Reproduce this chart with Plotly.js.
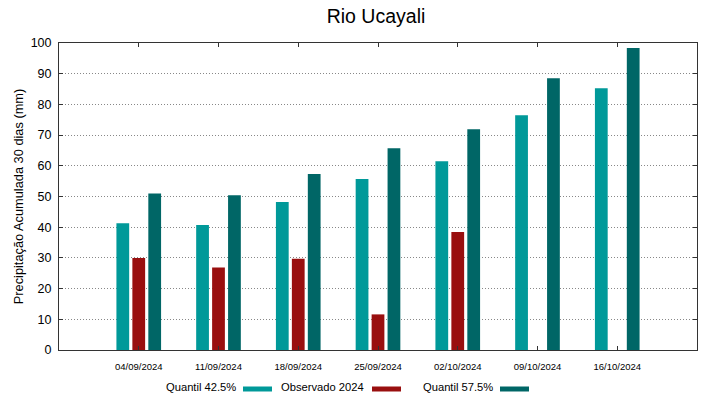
<!DOCTYPE html>
<html><head><meta charset="utf-8">
<script src="https://cdn.plot.ly/plotly-3.0.1.min.js"></script>
<style>body{margin:0;padding:0;background:#fff}#chart{width:719px;height:399px}</style>
</head><body><div id="chart"></div>
<script>
const categories = ["04/09/2024","11/09/2024","18/09/2024","25/09/2024","02/10/2024","09/10/2024","16/10/2024"];
const quantil425 = [41.3, 40.7, 48.2, 55.7, 61.5, 76.5, 85.3];
const observado2024 = [30.0, 26.9, 29.7, 11.6, 38.4, null, null];
const quantil575 = [51.0, 50.4, 57.3, 65.7, 71.9, 88.5, 98.4];
const seriesNames = ["Quantil 42.5%", "Observado 2024", "Quantil 57.5%"];
const colors = ["#009999", "#990f0f", "#006666"];

const font = "Liberation Sans, Arial, sans-serif";
const seriesVals = [quantil425, observado2024, quantil575];
const traces = seriesVals.map((v, i) => ({
  type: "bar", x: categories, y: v, name: seriesNames[i],
  marker: {color: colors[i], line: {width: 0}}, showlegend: false
}));

// custom legend: text then swatch
const legendText = [{x0: 238, s0: 243}, {x0: 366, s0: 372}, {x0: 495, s0: 500}];
const annotations = [], shapes = [];
legendText.forEach((p, i) => {
  annotations.push({xref: "paper", yref: "paper", x: (p.x0 - 59) / 638, y: -(387 - 350) / 307,
    xanchor: "right", yanchor: "middle", text: seriesNames[i], showarrow: false,
    font: {family: font, size: 11.2, color: "#000"}});
  shapes.push({type: "rect", xref: "paper", yref: "paper",
    x0: (p.s0 - 59) / 638, x1: (p.s0 + 29 - 59) / 638,
    y0: -(391.5 - 350) / 307, y1: -(386.5 - 350) / 307,
    fillcolor: colors[i], line: {width: 0}});
});

const layout = {
  width: 719, height: 399,
  margin: {l: 59, r: 22, t: 43, b: 49},
  paper_bgcolor: "#fff", plot_bgcolor: "#fff",
  font: {family: font, color: "#000"},
  title: {text: "Rio Ucayali", x: 376 / 719, xanchor: "center", y: 1 - 16 / 399, yanchor: "middle",
    font: {family: font, size: 19.5, color: "#000"}},
  barmode: "group", bargap: 0.4, bargroupgap: 0.2,
  xaxis: {type: "category", range: [-1, 7], showline: true, linecolor: "#333", linewidth: 1, mirror: "ticks",
    ticks: "inside", ticklen: 4, tickcolor: "#333", showgrid: false,
    tickfont: {family: font, size: 9.5, color: "#000"}, ticklabelstandoff: 8, zeroline: false},
  yaxis: {range: [0, 100], dtick: 10, showline: true, linecolor: "#333", linewidth: 1, mirror: "ticks",
    ticks: "inside", ticklen: 4, tickcolor: "#333",
    showgrid: true, gridcolor: "#888", griddash: "1px,2px", gridwidth: 1, zeroline: false,
    tickfont: {family: font, size: 12.5, color: "#000"}, ticklabelstandoff: 4,
    title: {text: "Precipitação Acumulada 30 dias (mm)", font: {family: font, size: 12.8, color: "#000"}, standoff: 4}},
  annotations: annotations, shapes: shapes
};
Plotly.newPlot("chart", traces, layout, {displayModeBar: false, staticPlot: true});
</script></body></html>
